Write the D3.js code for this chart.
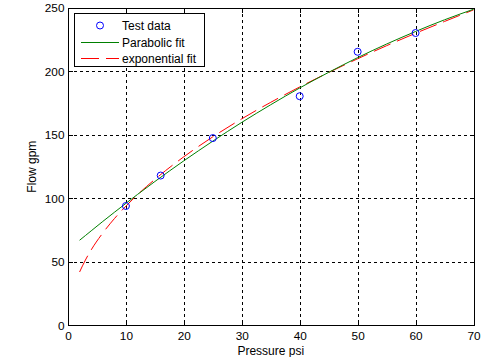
<!DOCTYPE html>
<html><head><meta charset="utf-8">
<script src="https://cdn.jsdelivr.net/npm/d3@7"></script>
<style>body{margin:0;background:#fff}svg{display:block}text{font-family:"Liberation Sans",Arial,sans-serif}</style>
</head><body>
<script>
const testX = [10, 16, 25, 40, 50, 60];
const testY = [94, 118, 147.5, 180.5, 215.5, 230.3];
const fitX = [2, 3, 4, 6, 8, 10, 12, 15, 20, 25, 30, 35, 40, 45, 50, 55, 60, 65, 70];
const parabolicY = [67.0, 70.7, 74.4, 81.8, 89.0, 96.1, 103.1, 113.3, 129.6, 145.1, 159.9, 173.8, 187.0, 199.3, 210.9, 221.6, 231.5, 240.7, 249.0];
const exponentialY = [42.0, 51.4, 59.4, 72.7, 84.0, 93.9, 102.9, 115.0, 132.8, 148.5, 162.7, 175.7, 187.8, 199.2, 210.0, 220.3, 230.1, 239.4, 248.5];
const xTicks = [0, 10, 20, 30, 40, 50, 60, 70];
const yTicks = [0, 50, 100, 150, 200, 250];
const legendLabels = ["Test data", "Parabolic fit", "exponential fit"];

const W = 482, H = 357;
const L = 68, R = 473.5, T = 8, B = 325.3;
const svg = d3.select("body").append("svg").attr("width", W).attr("height", H);
const x = d3.scaleLinear().domain([0, 70]).range([L, R]);
const y = d3.scaleLinear().domain([0, 250]).range([B, T]);

// grid
const g = svg.append("g").attr("shape-rendering", "crispEdges");
g.selectAll(".gx").data(xTicks.slice(1, -1)).join("line")
  .attr("x1", d => Math.round(x(d)) + 0.5).attr("x2", d => Math.round(x(d)) + 0.5)
  .attr("y1", T).attr("y2", B).attr("stroke", "#000").attr("stroke-dasharray", "3,3");
g.selectAll(".gy").data(yTicks.slice(1, -1)).join("line")
  .attr("y1", d => Math.round(y(d)) + 0.5).attr("y2", d => Math.round(y(d)) + 0.5)
  .attr("x1", L).attr("x2", R).attr("stroke", "#000").attr("stroke-dasharray", "3,3");

// axes
const fs = 11.8;
const xa = svg.append("g").attr("transform", `translate(0,${Math.round(B)+0.5})`)
  .call(d3.axisBottom(x).tickValues(xTicks).tickSize(-4).tickPadding(6).tickFormat(d3.format("d")));
const xt = svg.append("g").attr("transform", `translate(0,${Math.round(T)+0.5})`)
  .call(d3.axisTop(x).tickValues(xTicks).tickSize(-4).tickFormat(""));
const ya = svg.append("g").attr("transform", `translate(${Math.round(L)+0.5},0)`)
  .call(d3.axisLeft(y).tickValues(yTicks).tickSize(-4).tickPadding(4).tickFormat(d3.format("d")));
const yr = svg.append("g").attr("transform", `translate(${Math.round(R)+0.5},0)`)
  .call(d3.axisRight(y).tickValues(yTicks).tickSize(-4).tickFormat(""));
[xa, xt, ya, yr].forEach(a => {
  a.select(".domain").remove();
  a.selectAll("line").attr("stroke", "#000").attr("shape-rendering", "crispEdges");
  a.selectAll("text").attr("font-size", fs).attr("fill", "#000").attr("font-family", '"Liberation Sans",Arial,sans-serif');
});
svg.append("rect").attr("x", Math.round(L)+0.5).attr("y", Math.round(T)+0.5)
  .attr("width", Math.round(R)-Math.round(L)).attr("height", Math.round(B)-Math.round(T))
  .attr("fill", "none").attr("stroke", "#000").attr("shape-rendering", "crispEdges");

// lines
const line = d3.line().x(d => x(d[0])).y(d => y(d[1])).curve(d3.curveMonotoneX);
svg.append("path").datum(fitX.map((v, i) => [v, exponentialY[i]])).attr("d", line)
  .attr("fill", "none").attr("stroke", "#ff0000").attr("stroke-width", 1).attr("stroke-dasharray", "18,7");
svg.append("path").datum(fitX.map((v, i) => [v, parabolicY[i]])).attr("d", line)
  .attr("fill", "none").attr("stroke", "#008000").attr("stroke-width", 1);
svg.selectAll(".pt").data(testX.map((v, i) => [v, testY[i]])).join("circle")
  .attr("cx", d => x(d[0])).attr("cy", d => y(d[1])).attr("r", 3.5)
  .attr("fill", "none").attr("stroke", "#0000ff").attr("stroke-width", 1);

// labels
svg.append("text").attr("x", (L + R) / 2).attr("y", 355).attr("text-anchor", "middle")
  .attr("font-size", 12).text("Pressure psi");
svg.append("text").attr("transform", `translate(36,${(T + B) / 2}) rotate(-90)`).attr("text-anchor", "middle")
  .attr("font-size", 12).text("Flow gpm");

// legend
const lg = svg.append("g");
lg.append("rect").attr("x", 74.5).attr("y", 13.5).attr("width", 130).attr("height", 53)
  .attr("fill", "#fff").attr("stroke", "#000").attr("shape-rendering", "crispEdges");
const rows = [25.5, 42.5, 58.5];
lg.append("circle").attr("cx", 100).attr("cy", rows[0]).attr("r", 3.5).attr("fill", "none").attr("stroke", "#0000ff");
lg.append("line").attr("x1", 81).attr("x2", 119).attr("y1", rows[1]).attr("y2", rows[1]).attr("stroke", "#008000");
lg.append("line").attr("x1", 81).attr("x2", 119).attr("y1", rows[2]).attr("y2", rows[2]).attr("stroke", "#ff0000").attr("stroke-dasharray", "18,7");
lg.selectAll(".lt").data(legendLabels).join("text").attr("x", 122).attr("y", (d, i) => rows[i] + 4.5)
  .attr("font-size", 12).text(d => d);
</script>
</body></html>
